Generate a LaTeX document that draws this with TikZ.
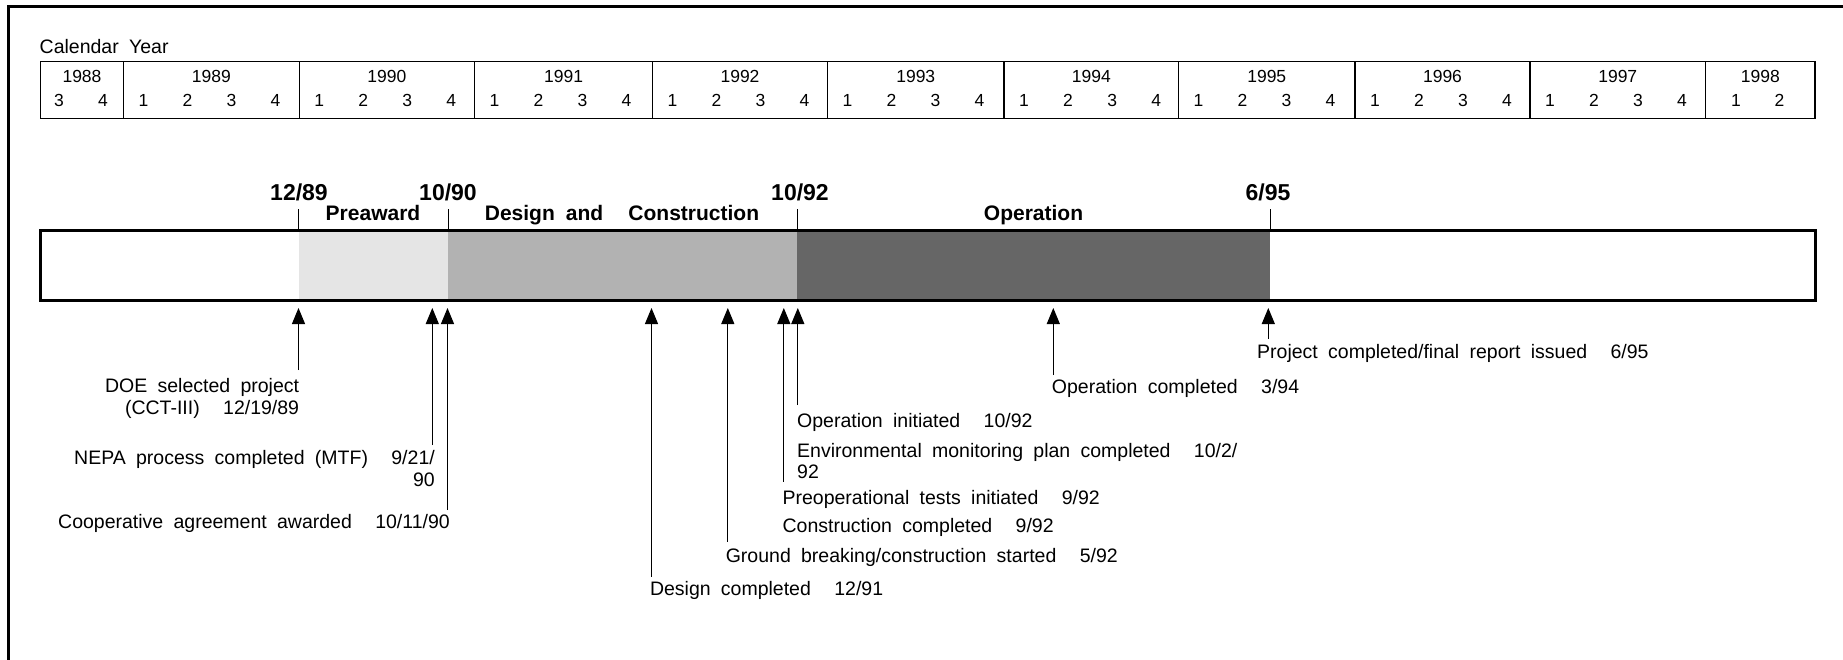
\documentclass[tikz,border=0pt]{standalone}
\usepackage{fontspec}
\setmainfont[WordSpace=1.9]{Liberation Sans}
\usetikzlibrary{arrows.meta}
\newcommand{\twosp}{\hspace{1.2em}}
\begin{document}
\begin{tikzpicture}[x=1pt,y=-1pt,
  lbl/.style={font=\fontsize{19.5}{22}\selectfont, inner sep=0pt},
  tbl/.style={font=\fontsize{17.5}{20}\selectfont, inner sep=0pt, anchor=base},
  datelbl/.style={font=\fontsize{23}{26}\selectfont\bfseries, inner sep=0pt, anchor=base},
  phaselbl/.style={font=\fontsize{21}{24}\selectfont\bfseries, inner sep=0pt, anchor=base},
  arr/.style={-{Triangle[length=16pt,width=13pt]}, line width=1.1pt},
  tick/.style={line width=1pt}]
\useasboundingbox (0,0) rectangle (1843,660);
% frame
\draw[line width=3pt] (8.5,670) -- (8.5,7) -- (1850,7);
% calendar
\node[lbl, anchor=base west] (cal) at (39.5,53.5) {Calendar Year};
\draw[line width=1.3pt] (40.7,61.7) rectangle (1815,118.3);
\foreach \d in {123.4,299.3,474.5,652.6,827.4,1004.1,1178.5,1355,1530,1705.5}{
  \draw[line width=1.3pt] (\d,61.7) -- (\d,118.3);
}
\foreach \c/\yr in {82/1988,211.35/1989,386.9/1990,563.55/1991,740/1992,915.75/1993,1091.3/1994,1266.75/1995,1442.5/1996,1617.75/1997,1760.25/1998}{
  \node[tbl] (y\yr) at (\c,83) {\yr};
}
\node[tbl] (q1988-3) at (59,106.3) {3};
\node[tbl] (q1988-4) at (103,106.3) {4};
\foreach \a/\yr in {123.4/1989,299.3/1990,474.5/1991,652.6/1992,827.4/1993,1004.1/1994,1178.5/1995,1355/1996,1530/1997}{
  \foreach \k in {1,2,3,4}{
    \node[tbl] (q\yr-\k) at ({\a+20+44*(\k-1)},106.3) {\k};
  }
}
\node[tbl] (q1998-1) at (1736,106.3) {1};
\node[tbl] (q1998-2) at (1779.5,106.3) {2};
% bar
\fill[fill={rgb,255:red,229;green,229;blue,229}] (298.5,231) rectangle (448,300);
\fill[fill={rgb,255:red,178;green,178;blue,178}] (448,231) rectangle (797,300);
\fill[fill={rgb,255:red,102;green,102;blue,102}] (797,231) rectangle (1270,300);
\draw[line width=3pt] (40.7,231) rectangle (1815,300);
% ticks
\foreach \t in {298.5,448,797,1270}{
  \draw[tick] (\t,231) -- (\t,209);
}
\node[datelbl] (d1) at (299,201) {12/89};
\node[datelbl] (d2) at (448,201) {10/90};
\node[datelbl] (d3) at (800,201) {10/92};
\node[datelbl] (d4) at (1268,201) {6/95};
\node[phaselbl] (p1) at (373,221) {Preaward};
\node[phaselbl] (p2) at (622,221) {Design and\twosp Construction};
\node[phaselbl] (p3) at (1033.5,221) {Operation};
% arrows
\foreach \n/\x/\b in {1/298.5/370, 2/432.3/445, 3/447.5/510, 4/651.5/576.7, 5/727.8/541.7, 6/783.8/481.7, 7/797.8/405, 8/1053.3/375, 9/1268.3/339}{
  \coordinate (t\n) at (\x,308);
  \coordinate (b\n) at (\x,\b);
  \draw[arr] (b\n) -- (t\n);
}
% labels
\node[lbl, anchor=base east] (doe1) at (299.3,392) {DOE selected project};
\node[lbl, anchor=base east] (doe2) at (299.3,414) {(CCT-III)\twosp 12/19/89};
\node[lbl, anchor=base east] (nepa1) at (435,464.3) {NEPA process completed (MTF)\twosp 9/21/};
\node[lbl, anchor=base east] (nepa2) at (435,486) {90};
\node[lbl, anchor=base east] (coop) at (450,528.7) {Cooperative agreement awarded\twosp 10/11/90};
\node[lbl, anchor=base west] (des) at (649.8,595) {Design completed\twosp 12/91};
\node[lbl, anchor=base west] (gnd) at (725.6,562) {Ground breaking/construction started\twosp 5/92};
\node[lbl, anchor=base west] (cons) at (782.4,532.4) {Construction completed\twosp 9/92};
\node[lbl, anchor=base west] (preop) at (782.4,504) {Preoperational tests initiated\twosp 9/92};
\node[lbl, anchor=base west] (env1) at (797,457) {Environmental monitoring plan completed\twosp 10/2/};
\node[lbl, anchor=base west] (env2) at (797,478) {92};
\node[lbl, anchor=base west] (opi) at (797,427) {Operation initiated\twosp 10/92};
\node[lbl, anchor=base west] (opc) at (1051.7,393) {Operation completed\twosp 3/94};
\node[lbl, anchor=base west] (proj) at (1257,358.7) {Project completed/final report issued\twosp 6/95};
\end{tikzpicture}
\end{document}
